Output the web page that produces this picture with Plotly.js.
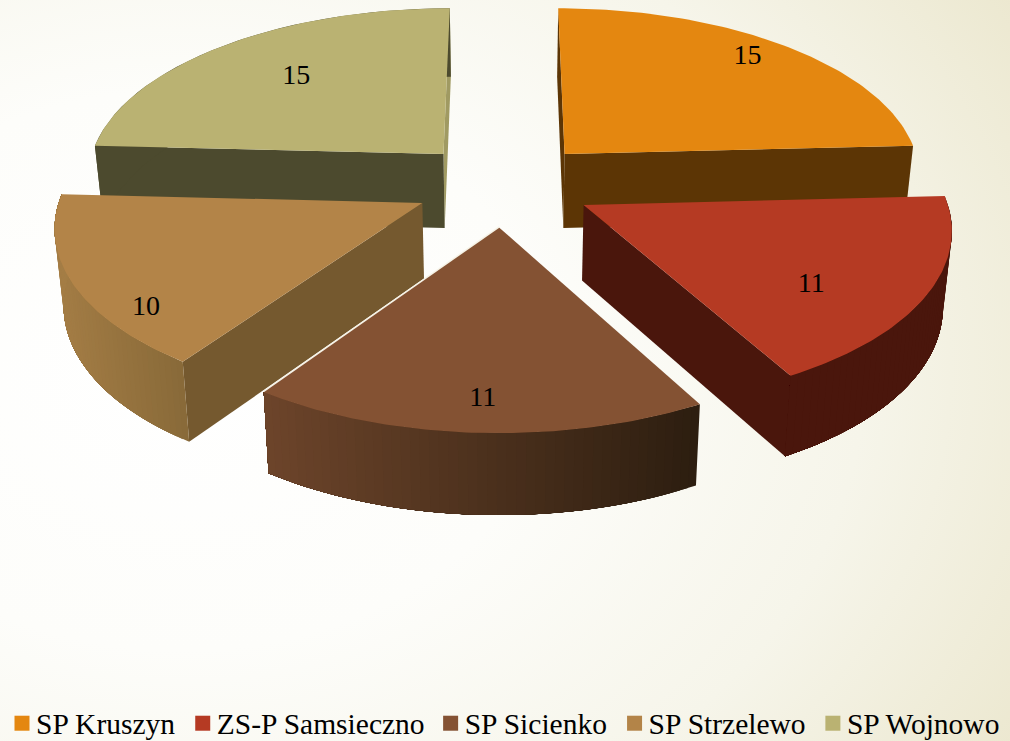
<!DOCTYPE html>
<html>
<head>
<meta charset="utf-8">
<script src="https://cdn.plot.ly/plotly-3.0.1.min.js"></script>
<style>
html,body{margin:0;padding:0;width:1010px;height:741px;overflow:hidden;
background:radial-gradient(ellipse 1050px 800px at 18% 50%,#ffffff 0%,#fdfdfa 35%,#f6f5ea 65%,#e9e4c8 100%);}
#chart{width:1010px;height:741px;}
</style>
</head>
<body>
<div id="chart"></div>
<script>
// Data
const categories = ["SP Kruszyn", "ZS-P Samsieczno", "SP Sicienko", "SP Strzelewo", "SP Wojnowo"];
const values = [15, 11, 11, 10, 15];

// Styles
const topColors = ["#E48710", "#B53A23", "#845233", "#B38448", "#BAB272"];
const cutColors = ["#5C3505", "#4A160C", "#6A4429", "#75592F", "#4C4A2E"];
const farCutColors = ["#5C3505", "#4A160C", "#6A4429", "#75592F", "#A09A62"];
const wallLeft = ["#5C3505", "#4A160C", "#6C442A", "#A47D45", "#4C4A2E"];
const wallRight = ["#5C3505", "#4A160C", "#2D1E10", "#896A39", "#4C4A2E"];
const labelAngleShift = [-2.2, 7, -0.4, -12.5, 2.3];
const labelRadius = [0.872, 0.722, 0.843, 0.886, 0.685];

// Projection of the exploded pie
const CX = 504, CY = 184, SX = 359, SY = 169.7, K = 0.119, EXPLODE = 0.25, CAM_Y = -8;
function proj(X, Y, bottom) {
  const w = 1 + K * Y;
  let x = CX + SX * X / w, y = CY - SY * Y / w;
  if (bottom) { x = CX + (x - CX) * 0.98; y = y + 75 - 5.6 * Y; }
  return [x, y];
}
function polar(deg, r) { const a = deg * Math.PI / 180; return [r * Math.sin(a), r * Math.cos(a)]; }
function mix(a, b, t) {
  const p = s => [1, 3, 5].map(i => parseInt(s.substr(i, 2), 16));
  const A = p(a), B = p(b);
  return "rgb(" + A.map((v, i) => Math.round(v + (B[i] - v) * t)).join(",") + ")";
}
function poly(pts, color) {
  const xs = pts.map(p => p[0]).concat(pts[0][0]);
  const ys = pts.map(p => p[1]).concat(pts[0][1]);
  return {x: xs, y: ys, type: "scatter", mode: "lines", fill: "toself", fillcolor: color,
    line: {width: 0, color: color}, hoverinfo: "skip", showlegend: false};
}

const total = values.reduce((a, b) => a + b, 0);
let acc = 0;
const slices = values.map((v, i) => {
  const a0 = acc / total * 360; acc += v; const a1 = acc / total * 360;
  const mid = (a0 + a1) / 2;
  return {i, a0, a1, mid, off: polar(mid, EXPLODE)};
});

function drawSlice(s) {
  const out = [];
  const P = (deg, r, b) => { const q = polar(deg, r); return proj(s.off[0] + q[0], s.off[1] + q[1], b); };
  const apexT = proj(s.off[0], s.off[1], false), apexB = proj(s.off[0], s.off[1], true);
  const visible = normalDeg => {
    const n = polar(normalDeg, 1);
    return n[0] * (0 - s.off[0]) + n[1] * (CAM_Y - s.off[1]) > 0;
  };
  const faces = [
    {deg: s.a0, n: s.a0 - 90},
    {deg: s.a1, n: s.a1 + 90}
  ].filter(f => visible(f.n)).map(f => {
    const t = P(f.deg, 1, false), b = P(f.deg, 1, true);
    return {pts: [apexT, t, b, apexB], d: t[1]};
  }).sort((a, b) => a.d - b.d);
  faces.forEach((f, idx) => {
    const isFar = faces.length > 1 && idx === 0;
    out.push(poly(f.pts, isFar ? farCutColors[s.i] : cutColors[s.i]));
  });
  // outer wall: painted band after band, each band covering the rest of the arc
  const n = 48, start = [];
  for (let k = 0; k < n; k++) {
    const d = s.a0 + (s.a1 - s.a0) * k / n;
    if (Math.cos(d * Math.PI / 180) < 0.08) start.push(d);
  }
  if (start.length) {
    const xsAll = start.map(d => P(d, 1, false)[0]);
    const xmin = Math.min(...xsAll), xmax = Math.max(...xsAll);
    start.forEach((d, j) => {
      const upper = [], lower = [];
      for (let k = 0; k <= 30; k++) {
        const e = d + (s.a1 - d) * k / 30;
        upper.push(P(e, 1, false)); lower.unshift(P(e, 1, true));
      }
      const t = (xsAll[j] - xmin) / Math.max(1, xmax - xmin);
      out.push(poly(upper.concat(lower), mix(wallLeft[s.i], wallRight[s.i], t)));
    });
  }
  // top
  const top = [apexT];
  for (let k = 0; k <= 80; k++) top.push(P(s.a0 + (s.a1 - s.a0) * k / 80, 1, false));
  if (s.i === 2) {
    const far = top[top.length - 1];
    out.push({x: [apexT[0], far[0]], y: [apexT[1] - 0.8, far[1] - 0.8], type: "scatter", mode: "lines",
      line: {color: "#F6F3E6", width: 1.6}, hoverinfo: "skip", showlegend: false});
  }
  out.push(poly(top, topColors[s.i]));
  return out;
}

let traces = [];
[4, 0, 3, 1, 2].forEach(i => { traces = traces.concat(drawSlice(slices[i])); });

// value labels
const lx = [], ly = [];
slices.forEach(s => {
  const q = polar(s.mid + labelAngleShift[s.i], labelRadius[s.i]);
  const pt = proj(s.off[0] + q[0], s.off[1] + q[1], false);
  lx.push(pt[0] - 0.8); ly.push(pt[1] + 2.3);
});
traces.push({x: lx, y: ly, text: values.map(String), type: "scatter", mode: "text", textposition: "middle center",
  textfont: {family: "Liberation Serif, serif", size: 28, color: "#000000"}, hoverinfo: "skip", showlegend: false});

// legend entries
categories.forEach((c, i) => {
  traces.push({x: [-100], y: [-100], type: "scatter", mode: "markers", name: c,
    marker: {symbol: "square", size: 15, color: topColors[i]}, hoverinfo: "skip"});
});

const LEGEND_SHIFT = [-4, 8];
const layout = {
  width: 1010, height: 741,
  margin: {l: 0, r: 0, t: 0, b: 0, pad: 0},
  paper_bgcolor: "rgba(0,0,0,0)", plot_bgcolor: "rgba(0,0,0,0)",
  xaxis: {range: [0, 1010], visible: false, fixedrange: true},
  yaxis: {range: [741, 0], visible: false, fixedrange: true},
  showlegend: true, hovermode: false,
  legend: {orientation: "h", x: 0, xanchor: "left", y: 0, yanchor: "bottom",
    bgcolor: "rgba(0,0,0,0)", itemwidth: 30, traceorder: "normal",
    font: {family: "Liberation Serif, serif", size: 28.8, color: "#000000"}}
};
Plotly.newPlot("chart", traces, layout, {displayModeBar: false, staticPlot: true}).then(() => {
  document.querySelectorAll(".legend .legendpoints path").forEach(p => {
    p.setAttribute("transform", "translate(26,0)");
  });
  document.querySelectorAll(".legend .legendtext").forEach(t => {
    t.style.fontSize = "29.5px";
  });
  const g = document.querySelector(".legend");
  const m = /translate\(([-\d.]+)[ ,]+([-\d.]+)\)/.exec(g.getAttribute("transform") || "");
  if (m) g.setAttribute("transform", "translate(" + (parseFloat(m[1]) + LEGEND_SHIFT[0]) + "," + (parseFloat(m[2]) + LEGEND_SHIFT[1]) + ")");
  // let the enlarged legend text run to the edge of its entries instead of being clipped
  document.querySelectorAll(".legend [clip-path]").forEach(e => e.removeAttribute("clip-path"));
});
</script>
</body>
</html>
